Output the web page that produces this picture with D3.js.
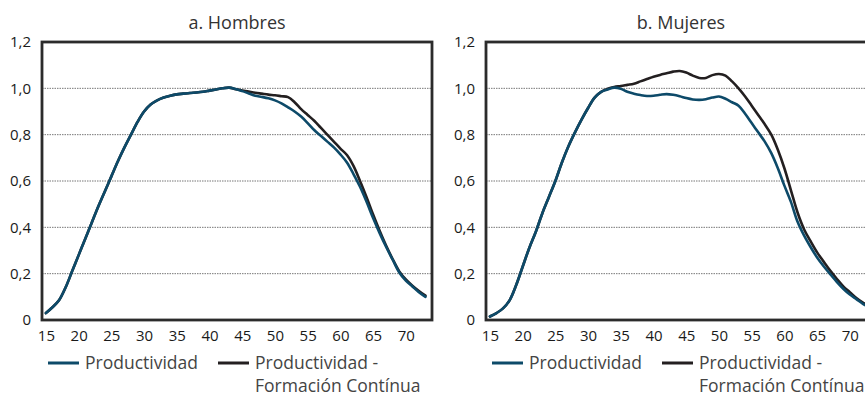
<!DOCTYPE html>
<html>
<head>
<meta charset="utf-8">
<script src="https://cdn.jsdelivr.net/npm/d3@7"></script>
<style>
  html, body { margin: 0; padding: 0; background: #fff; }
  svg { display: block; font-family: "Open Sans", "DejaVu Sans", sans-serif; }
</style>
</head>
<body>
<svg id="chart" width="865" height="397"></svg>
<script>
// Ages 15..73
const ages = d3.range(15, 74);

const yTicks = [0, 0.2, 0.4, 0.6, 0.8, 1.0, 1.2];
const xTicks = [15, 20, 25, 30, 35, 40, 45, 50, 55, 60, 65, 70];

const seriesNames = ["Productividad", "Productividad -\nFormación Contínua"];

// a. Hombres
const hombresProd = [
  0.03, 0.055, 0.085, 0.14, 0.21, 0.28, 0.35, 0.42, 0.49, 0.555,
  0.62, 0.685, 0.745, 0.80, 0.855, 0.90, 0.93, 0.948, 0.96, 0.968,
  0.974, 0.977, 0.980, 0.982, 0.985, 0.99, 0.995, 1.0, 1.003, 0.997,
  0.988, 0.978, 0.968, 0.963, 0.957, 0.948, 0.935, 0.918, 0.90, 0.878,
  0.85, 0.82, 0.795, 0.77, 0.745, 0.715, 0.68, 0.63, 0.575, 0.51,
  0.44, 0.375, 0.315, 0.26, 0.205, 0.17, 0.145, 0.12, 0.10
];
const hombresForm = [
  0.03, 0.055, 0.085, 0.14, 0.21, 0.28, 0.35, 0.42, 0.49, 0.555,
  0.62, 0.685, 0.745, 0.80, 0.855, 0.90, 0.93, 0.948, 0.96, 0.968,
  0.974, 0.977, 0.980, 0.982, 0.985, 0.99, 0.995, 1.0, 1.003, 0.996,
  0.991, 0.986, 0.981, 0.977, 0.973, 0.970, 0.966, 0.962, 0.94, 0.91,
  0.885, 0.86, 0.83, 0.80, 0.77, 0.74, 0.712, 0.665, 0.60, 0.53,
  0.455, 0.385, 0.32, 0.262, 0.21, 0.175, 0.148, 0.125, 0.105
];

// b. Mujeres
const mujeresProd = [
  0.015, 0.03, 0.05, 0.085, 0.15, 0.23, 0.31, 0.38, 0.46, 0.53,
  0.60, 0.68, 0.75, 0.81, 0.865, 0.915, 0.96, 0.985, 0.995, 1.003,
  0.998, 0.985, 0.977, 0.971, 0.967, 0.968, 0.972, 0.975, 0.972, 0.966,
  0.958, 0.952, 0.95, 0.953, 0.96, 0.965, 0.955, 0.94, 0.925, 0.89,
  0.85, 0.81, 0.77, 0.72, 0.655, 0.58, 0.51, 0.425, 0.365, 0.315,
  0.27, 0.232, 0.198, 0.165, 0.135, 0.11, 0.09, 0.07, 0.055
];
const mujeresForm = [
  0.015, 0.03, 0.05, 0.085, 0.15, 0.23, 0.31, 0.38, 0.46, 0.53,
  0.60, 0.68, 0.75, 0.81, 0.865, 0.915, 0.96, 0.985, 0.998, 1.006,
  1.01, 1.015, 1.02, 1.03, 1.04, 1.05, 1.058, 1.065, 1.072, 1.075,
  1.068, 1.055, 1.045, 1.045, 1.057, 1.062, 1.055, 1.03, 1.0, 0.965,
  0.925, 0.885, 0.845, 0.80, 0.735, 0.655, 0.56, 0.465, 0.392, 0.34,
  0.292, 0.252, 0.213, 0.178, 0.145, 0.12, 0.095, 0.075, 0.06
];

const panels = [
  { title: "a. Hombres", left: 42, series: [hombresProd, hombresForm] },
  { title: "b. Mujeres", left: 486, series: [mujeresProd, mujeresForm] }
];

const colors = ["#0d4a69", "#231f20"];
const plotW = 390, plotTop = 42, plotBottom = 320;

const svg = d3.select("#chart");

panels.forEach(p => {
  const g = svg.append("g");
  const x = d3.scaleLinear().domain([14.4, 74]).range([p.left, p.left + plotW]);
  const y = d3.scaleLinear().domain([0, 1.2]).range([plotBottom, plotTop]);

  // title
  g.append("text")
    .attr("x", p.left + plotW / 2).attr("y", 29)
    .attr("text-anchor", "middle")
    .attr("font-size", 18).attr("fill", "#333")
    .text(p.title);

  // dotted gridlines
  g.selectAll("line.grid").data(yTicks.filter(v => v > 0 && v < 1.2)).join("line")
    .attr("class", "grid")
    .attr("x1", p.left).attr("x2", p.left + plotW)
    .attr("y1", d => y(d)).attr("y2", d => y(d))
    .attr("stroke", "#777").attr("stroke-width", 1)
    .attr("stroke-dasharray", "1.5,1");

  // y axis labels
  const yAxis = d3.axisLeft(y).tickValues(yTicks).tickSize(0).tickPadding(11)
    .tickFormat(d => d === 0 ? "0" : d3.format(".1f")(d).replace(".", ","));
  const ya = g.append("g").attr("transform", `translate(${p.left},0)`).call(yAxis);
  ya.select(".domain").remove();
  ya.selectAll("text").attr("font-size", 15).attr("fill", "#1a1a1a")
    .attr("font-family", "'Open Sans', sans-serif");

  // x axis labels
  const xAxis = d3.axisBottom(x).tickValues(xTicks).tickSize(0).tickPadding(10)
    .tickFormat(d3.format("d"));
  const xa = g.append("g").attr("transform", `translate(0,${plotBottom})`).call(xAxis);
  xa.select(".domain").remove();
  xa.selectAll("text").attr("font-size", 15).attr("fill", "#1a1a1a")
    .attr("font-family", "'Open Sans', sans-serif");

  // series lines
  const line = d3.line()
    .x((d, i) => x(ages[i]))
    .y(d => y(d))
    .curve(d3.curveCatmullRom.alpha(0.5));

  [1, 0].forEach(k => {
    g.append("path")
      .datum(p.series[k])
      .attr("d", line)
      .attr("fill", "none")
      .attr("stroke", colors[k])
      .attr("stroke-width", 2.6)
      .attr("stroke-linejoin", "round")
      .attr("stroke-linecap", "round");
  });

  // plot frame
  g.append("rect")
    .attr("x", p.left).attr("y", plotTop)
    .attr("width", plotW).attr("height", plotBottom - plotTop)
    .attr("fill", "none").attr("stroke", "#2b2b2b").attr("stroke-width", 2.8);

  // legend
  const lg = g.append("g").attr("transform", `translate(${p.left},0)`);
  const legendX = [6, 176];
  seriesNames.forEach((name, k) => {
    lg.append("line")
      .attr("x1", legendX[k]).attr("x2", legendX[k] + 31)
      .attr("y1", 363).attr("y2", 363)
      .attr("stroke", colors[k]).attr("stroke-width", 3);
    const t = lg.append("text")
      .attr("x", legendX[k] + 37).attr("y", 369)
      .attr("font-size", 17.5).attr("fill", "#444");
    name.split("\n").forEach((part, j) => {
      t.append("tspan").attr("x", legendX[k] + 37).attr("dy", j === 0 ? 0 : 23).text(part);
    });
  });
});
</script>
</body>
</html>
